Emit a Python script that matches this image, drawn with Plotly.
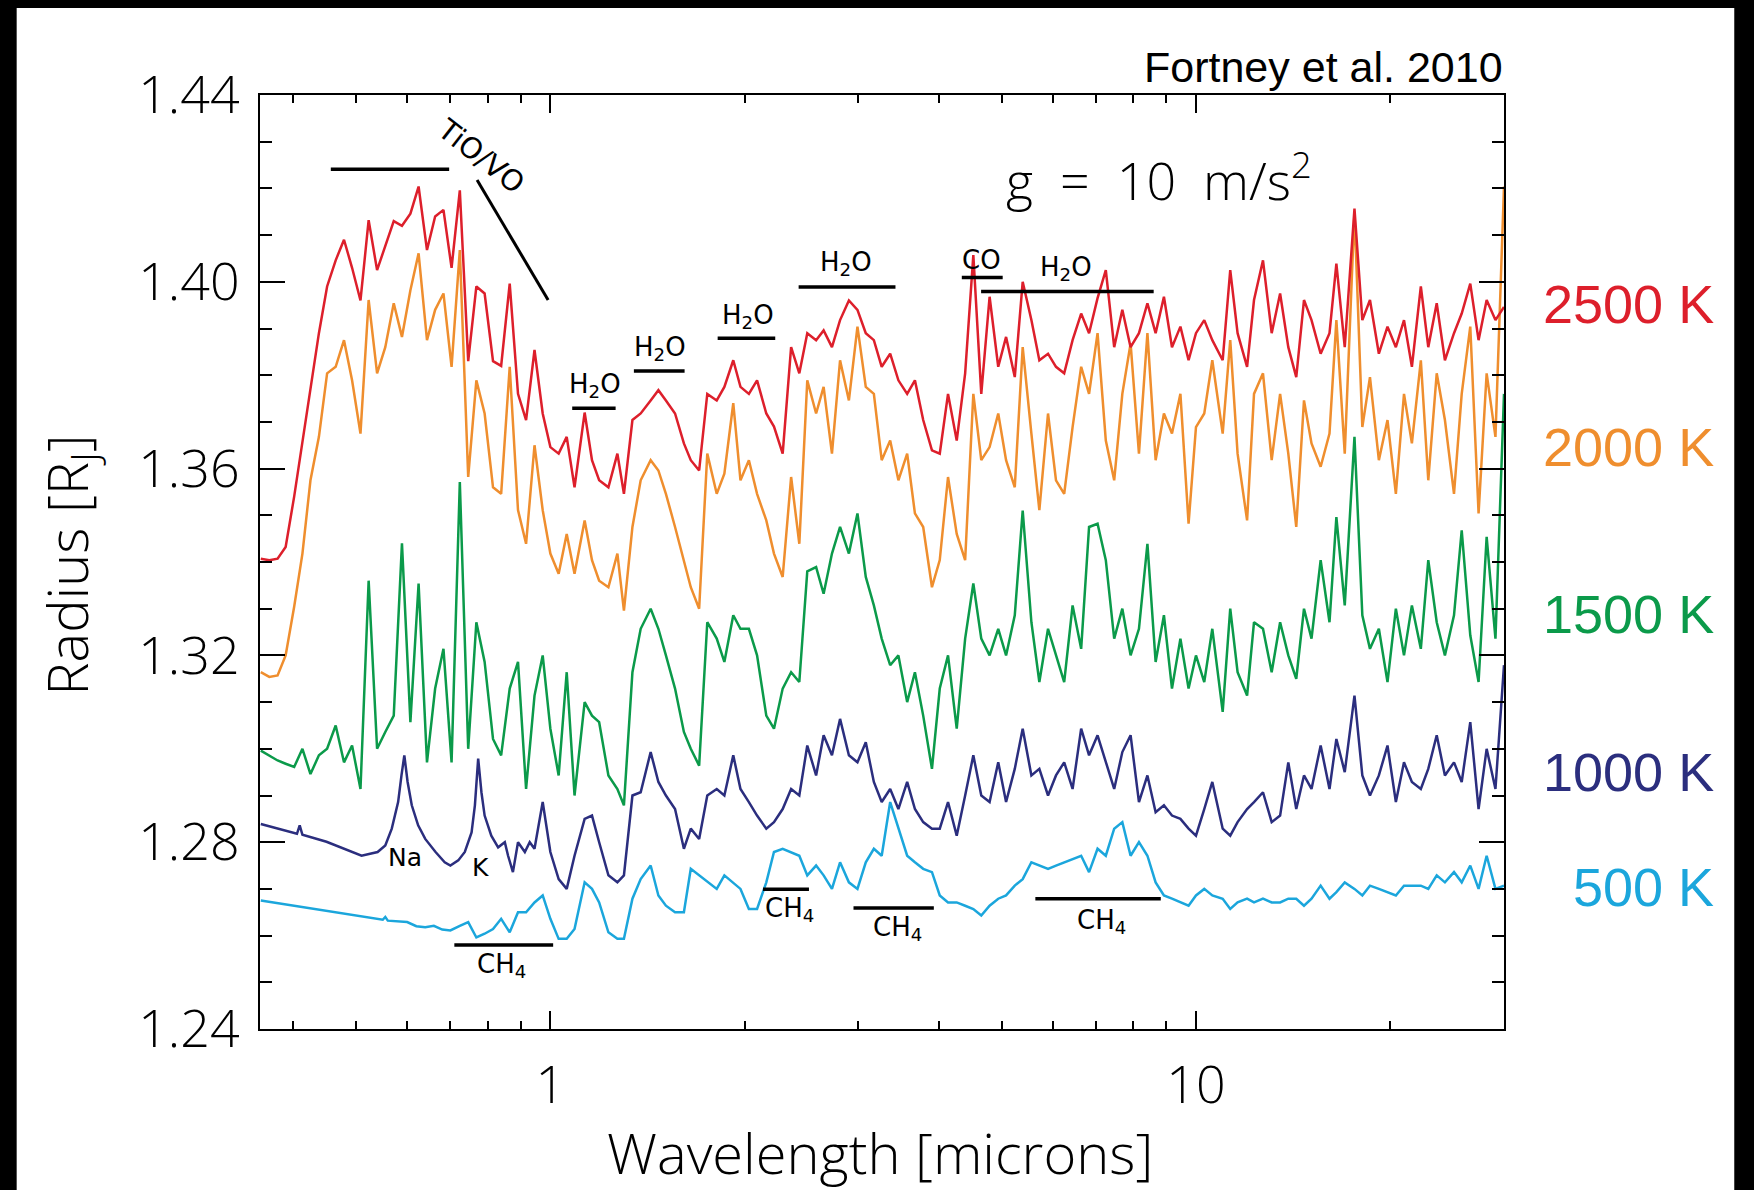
"""Transmission radius spectra of hot giant planets (after Fortney et al. 2010)."""
import numpy as np
import plotly.graph_objects as go

# ─────────────────────────────────────────────
# Data — values
# ─────────────────────────────────────────────
# shared wavelength grid (microns)
WAVELENGTH = [
    0.356, 0.367, 0.378, 0.389, 0.401, 0.413, 0.425, 0.438, 0.451, 0.465,
    0.479, 0.493, 0.508, 0.523, 0.539, 0.555, 0.572, 0.589, 0.607, 0.625,
    0.644, 0.663, 0.683, 0.703, 0.724, 0.746, 0.768, 0.791, 0.815, 0.839,
    0.865, 0.891, 0.917, 0.945, 0.973, 1.00, 1.03, 1.06, 1.09, 1.13,
    1.16, 1.19, 1.23, 1.27, 1.30, 1.34, 1.38, 1.43, 1.47, 1.51,
    1.56, 1.61, 1.65, 1.70, 1.75, 1.81, 1.86, 1.92, 1.97, 2.03,
    2.09, 2.16, 2.22, 2.29, 2.36, 2.43, 2.50, 2.58, 2.65, 2.73,
    2.81, 2.90, 2.99, 3.08, 3.17, 3.26, 3.36, 3.46, 3.57, 3.67,
    3.78, 3.90, 4.01, 4.13, 4.26, 4.39, 4.52, 4.65, 4.79, 4.94,
    5.08, 5.24, 5.39, 5.56, 5.72, 5.90, 6.07, 6.25, 6.44, 6.64,
    6.83, 7.04, 7.25, 7.47, 7.69, 7.92, 8.16, 8.41, 8.66, 8.92,
    9.18, 9.46, 9.74, 10.0, 10.3, 10.6, 11.0, 11.3, 11.6, 12.0,
    12.3, 12.7, 13.1, 13.5, 13.9, 14.3, 14.7, 15.1, 15.6, 16.1,
    16.5, 17.0, 17.6, 18.1, 18.6, 19.2, 19.8, 20.4, 21.0, 21.6,
    22.3, 22.9, 23.6, 24.3, 25.1, 25.8, 26.6, 27.4, 28.2, 29.1,
    30.0,
]

R_2500 = [
    1.3407, 1.3404, 1.3407, 1.3432, 1.3540, 1.3654, 1.3775, 1.3890, 1.3990, 1.4046,
    1.4090, 1.4030, 1.3960, 1.4132, 1.4025, 1.4075, 1.4130, 1.4120, 1.4146, 1.4204,
    1.4068, 1.4140, 1.4154, 1.4030, 1.4196, 1.3830, 1.3990, 1.3975, 1.3830, 1.3820,
    1.3996, 1.3760, 1.3704, 1.3854, 1.3718, 1.3646, 1.3632, 1.3668, 1.3560, 1.3720,
    1.3618, 1.3575, 1.3560, 1.3632, 1.3546, 1.3704, 1.3718, 1.3746, 1.3768, 1.3746,
    1.3718, 1.3654, 1.3618, 1.3596, 1.3760, 1.3746, 1.3775, 1.3832, 1.3775, 1.3760,
    1.3789, 1.3718, 1.3690, 1.3632, 1.3860, 1.3804, 1.3890, 1.3875, 1.3896, 1.3860,
    1.3918, 1.3960, 1.3940, 1.3890, 1.3875, 1.3818, 1.3846, 1.3789, 1.3760, 1.3789,
    1.3704, 1.3639, 1.3632, 1.3760, 1.3660, 1.3804, 1.4057, 1.3760, 1.3968, 1.3818,
    1.3882, 1.3796, 1.4000, 1.3918, 1.3832, 1.3846, 1.3818, 1.3804, 1.3875, 1.3932,
    1.3890, 1.3965, 1.4025, 1.3860, 1.3940, 1.3860, 1.3890, 1.3954, 1.3890, 1.3968,
    1.3860, 1.3904, 1.3832, 1.3890, 1.3918, 1.3875, 1.3832, 1.4025, 1.3890, 1.3818,
    1.3961, 1.4046, 1.3890, 1.3975, 1.3860, 1.3796, 1.3961, 1.3918, 1.3846, 1.3890,
    1.4039, 1.3860, 1.4157, 1.3918, 1.3961, 1.3846, 1.3904, 1.3860, 1.3918, 1.3818,
    1.3990, 1.3860, 1.3954, 1.3832, 1.3890, 1.3932, 1.3996, 1.3875, 1.3961, 1.3918,
    1.3946,
]

R_2000 = [
    1.3164, 1.3154, 1.3157, 1.3200, 1.3304, 1.3418, 1.3575, 1.3668, 1.3804, 1.3818,
    1.3875, 1.3789, 1.3675, 1.3961, 1.3804, 1.3860, 1.3954, 1.3882, 1.3982, 1.4061,
    1.3875, 1.3940, 1.3975, 1.3818, 1.4068, 1.3582, 1.3789, 1.3718, 1.3560, 1.3546,
    1.3818, 1.3511, 1.3439, 1.3650, 1.3511, 1.3418, 1.3375, 1.3460, 1.3375, 1.3489,
    1.3404, 1.3360, 1.3346, 1.3418, 1.3296, 1.3475, 1.3575, 1.3618, 1.3596, 1.3546,
    1.3475, 1.3400, 1.3346, 1.3300, 1.3632, 1.3546, 1.3589, 1.3740, 1.3575, 1.3618,
    1.3546, 1.3489, 1.3418, 1.3368, 1.3582, 1.3439, 1.3789, 1.3718, 1.3775, 1.3632,
    1.3832, 1.3746, 1.3904, 1.3775, 1.3760, 1.3618, 1.3660, 1.3575, 1.3632, 1.3504,
    1.3475, 1.3346, 1.3404, 1.3582, 1.3460, 1.3404, 1.3760, 1.3618, 1.3646, 1.3718,
    1.3618, 1.3560, 1.3860, 1.3675, 1.3511, 1.3718, 1.3575, 1.3546, 1.3689, 1.3818,
    1.3760, 1.3890, 1.3660, 1.3575, 1.3760, 1.3868, 1.3632, 1.3890, 1.3618, 1.3718,
    1.3675, 1.3760, 1.3482, 1.3689, 1.3718, 1.3832, 1.3675, 1.3875, 1.3632, 1.3489,
    1.3760, 1.3804, 1.3618, 1.3760, 1.3632, 1.3475, 1.3746, 1.3654, 1.3604, 1.3675,
    1.3918, 1.3632, 1.4150, 1.3689, 1.3796, 1.3618, 1.3704, 1.3546, 1.3760, 1.3654,
    1.3832, 1.3575, 1.3804, 1.3704, 1.3546, 1.3760, 1.3904, 1.3504, 1.3804, 1.3668,
    1.4204,
]

R_1500 = [
    1.2996, 1.2986, 1.2975, 1.2968, 1.2961, 1.3000, 1.2946, 1.2986, 1.3000, 1.3050,
    1.2971, 1.3007, 1.2914, 1.3360, 1.3000, 1.3036, 1.3071, 1.3440, 1.3057, 1.3354,
    1.2971, 1.3129, 1.3214, 1.2971, 1.3571, 1.3000, 1.3271, 1.3186, 1.3021, 1.2986,
    1.3129, 1.3186, 1.2914, 1.3114, 1.3200, 1.3043, 1.2943, 1.3164, 1.2900, 1.3100,
    1.3071, 1.3057, 1.2943, 1.2914, 1.2879, 1.3164, 1.3257, 1.3300, 1.3257, 1.3200,
    1.3129, 1.3036, 1.3000, 1.2964, 1.3271, 1.3236, 1.3186, 1.3286, 1.3257, 1.3257,
    1.3200, 1.3071, 1.3043, 1.3129, 1.3164, 1.3143, 1.3380, 1.3389, 1.3332, 1.3418,
    1.3475, 1.3418, 1.3504, 1.3368, 1.3307, 1.3236, 1.3179, 1.3200, 1.3100, 1.3164,
    1.3071, 1.2957, 1.3129, 1.3200, 1.3043, 1.3236, 1.3354, 1.3236, 1.3200, 1.3257,
    1.3200, 1.3286, 1.3510, 1.3271, 1.3143, 1.3257, 1.3200, 1.3143, 1.3307, 1.3214,
    1.3475, 1.3482, 1.3404, 1.3236, 1.3300, 1.3200, 1.3257, 1.3439, 1.3186, 1.3286,
    1.3129, 1.3236, 1.3129, 1.3200, 1.3143, 1.3257, 1.3079, 1.3300, 1.3164, 1.3114,
    1.3271, 1.3257, 1.3164, 1.3271, 1.3200, 1.3150, 1.3300, 1.3236, 1.3404, 1.3271,
    1.3496, 1.3307, 1.3668, 1.3286, 1.3214, 1.3257, 1.3143, 1.3300, 1.3200, 1.3307,
    1.3214, 1.3404, 1.3271, 1.3200, 1.3286, 1.3468, 1.3243, 1.3143, 1.3454, 1.3236,
    1.3760,
]

# 1000 K: resolved Na / K wings in the optical, then the shared grid from 0.945 um
WL_1000_OPT = [
    0.356, 0.380, 0.405, 0.409, 0.413, 0.450, 0.480, 0.510, 0.540, 0.555,
    0.568, 0.581, 0.588, 0.594, 0.601, 0.610, 0.624, 0.640, 0.664, 0.686,
    0.700, 0.720, 0.737, 0.755, 0.764, 0.773, 0.782, 0.791, 0.810, 0.830,
    0.850, 0.860, 0.875, 0.891, 0.913, 0.929,
]
R_1000_OPT = [
    1.2839, 1.2829, 1.2818, 1.2836, 1.2816, 1.2801, 1.2786, 1.2771, 1.2779, 1.2793,
    1.2829, 1.2886, 1.2943, 1.2986, 1.2929, 1.2879, 1.2836, 1.2807, 1.2779, 1.2757,
    1.2750, 1.2761, 1.2779, 1.2821, 1.2879, 1.2979, 1.2907, 1.2857, 1.2814, 1.2789,
    1.2800, 1.2771, 1.2736, 1.2800, 1.2779, 1.2800,
]
R_1000 = [
    1.2786, 1.2886, 1.2779, 1.2721, 1.2700, 1.2771, 1.2850,
    1.2857, 1.2800, 1.2729, 1.2714, 1.2729, 1.2900, 1.2907, 1.2993, 1.2929, 1.2900,
    1.2871, 1.2786, 1.2829, 1.2807, 1.2900, 1.2914, 1.2900, 1.2986, 1.2914, 1.2886,
    1.2857, 1.2829, 1.2843, 1.2871, 1.2914, 1.2900, 1.3007, 1.2943, 1.3029, 1.2986,
    1.3064, 1.2986, 1.2971, 1.3014, 1.2929, 1.2886, 1.2914, 1.2871, 1.2929, 1.2871,
    1.2843, 1.2829, 1.2829, 1.2886, 1.2814, 1.2900, 1.2986, 1.2900, 1.2886, 1.2971,
    1.2886, 1.2957, 1.3043, 1.2943, 1.2957, 1.2900, 1.2943, 1.2971, 1.2914, 1.3043,
    1.2986, 1.3029, 1.2970, 1.2914, 1.2993, 1.3029, 1.2886, 1.2943, 1.2864, 1.2879,
    1.2857, 1.2850, 1.2829, 1.2814, 1.2871, 1.2929, 1.2829, 1.2814, 1.2843, 1.2871,
    1.2886, 1.2907, 1.2843, 1.2857, 1.2971, 1.2871, 1.2943, 1.2914, 1.3007, 1.2914,
    1.3021, 1.2950, 1.3114, 1.2943, 1.2900, 1.2943, 1.3007, 1.2886, 1.2971, 1.2929,
    1.2914, 1.2957, 1.3029, 1.2943, 1.2971, 1.2929, 1.3057, 1.2871, 1.3000, 1.2914,
    1.3179,
]

# 500 K: smooth Rayleigh slope, then the shared grid from 0.724 um
WL_500_OPT = [0.356, 0.400, 0.450, 0.500, 0.550, 0.555, 0.560, 0.600, 0.620, 0.640,
              0.660, 0.680, 0.700]
R_500_OPT = [1.2675, 1.2664, 1.2653, 1.2643, 1.2634, 1.2640, 1.2632, 1.2629, 1.2620, 1.2618,
             1.2621, 1.2613, 1.2611]
R_500 = [
    1.2621, 1.2629, 1.2596, 1.2604, 1.2614, 1.2636,
    1.2607, 1.2650, 1.2650, 1.2671, 1.2686, 1.2636, 1.2593, 1.2593, 1.2614, 1.2714,
    1.2700, 1.2671, 1.2607, 1.2593, 1.2593, 1.2679, 1.2721, 1.2750, 1.2686, 1.2664,
    1.2650, 1.2650, 1.2743, 1.2729, 1.2714, 1.2700, 1.2729, 1.2714, 1.2700, 1.2657,
    1.2657, 1.2714, 1.2779, 1.2786, 1.2779, 1.2771, 1.2729, 1.2750, 1.2729, 1.2700,
    1.2757, 1.2714, 1.2700, 1.2757, 1.2786, 1.2771, 1.2886, 1.2829, 1.2771, 1.2757,
    1.2743, 1.2736, 1.2686, 1.2671, 1.2671, 1.2664, 1.2657, 1.2643, 1.2664, 1.2679,
    1.2686, 1.2707, 1.2721, 1.2757, 1.2750, 1.2743, 1.2750, 1.2757, 1.2764, 1.2771,
    1.2736, 1.2786, 1.2771, 1.2829, 1.2843, 1.2771, 1.2800, 1.2771, 1.2714, 1.2686,
    1.2679, 1.2671, 1.2664, 1.2686, 1.2700, 1.2686, 1.2679, 1.2657, 1.2671, 1.2679,
    1.2671, 1.2679, 1.2671, 1.2671, 1.2679, 1.2679, 1.2664, 1.2679, 1.2707, 1.2679,
    1.2693, 1.2714, 1.2700, 1.2686, 1.2707, 1.2700, 1.2693, 1.2686, 1.2707, 1.2707,
    1.2707, 1.2700, 1.2729, 1.2714, 1.2736, 1.2714, 1.2750, 1.2700, 1.2771, 1.2700,
    1.2707,
]

# molecular band markers: (label, x0, x1, bar radius, label x, label y)
BANDS = [
    ("H<sub>2</sub>O", 1.081, 1.262, 1.3729, 1.171, 1.3777),
    ("H<sub>2</sub>O", 1.347, 1.614, 1.3809, 1.476, 1.3857),
    ("H<sub>2</sub>O", 1.816, 2.230, 1.3879, 2.024, 1.3926),
    ("H<sub>2</sub>O", 2.424, 3.424, 1.3989, 2.873, 1.4039),
    ("CO", 4.338, 5.019, 1.4009, 4.647, 1.4046),
    ("H<sub>2</sub>O", 4.647, 8.600, 1.3979, 6.290, 1.4029),
    ("CH<sub>4</sub>", 0.710, 1.010, 1.2580, 0.840, 1.2537),
    ("CH<sub>4</sub>", 2.135, 2.515, 1.2699, 2.348, 1.2655),
    ("CH<sub>4</sub>", 2.948, 3.926, 1.2659, 3.453, 1.2616),
    ("CH<sub>4</sub>", 5.639, 8.820, 1.2679, 7.130, 1.2630),
]
TIO_BAR = ([0.457, 0.697], [1.4241, 1.4241])
TIO_SLANT = ([0.770, 0.992], [1.4218, 1.3961])

TEMPS = ["2500 K", "2000 K", "1500 K", "1000 K", "500 K"]
COLORS = {
    "2500 K": "#DD1F2B",
    "2000 K": "#EF8E2E",
    "1500 K": "#0B9A4A",
    "1000 K": "#2B2E7E",
    "500 K": "#1BA6DC",
}
LABEL_Y = {"2500 K": 0.776, "2000 K": 0.623, "1500 K": 0.444, "1000 K": 0.275, "500 K": 0.152}

X_RANGE = [0.355, 30.0]
Y_RANGE = [1.24, 1.44]
Y_MAJOR = [1.24, 1.28, 1.32, 1.36, 1.40, 1.44]
Y_MINOR = [1.25, 1.26, 1.27, 1.29, 1.30, 1.31, 1.33, 1.34, 1.35, 1.37, 1.38, 1.39, 1.41, 1.42, 1.43]
X_MAJOR = [1, 10]
X_MINOR = [0.4, 0.5, 0.6, 0.7, 0.8, 0.9, 2, 3, 4, 5, 6, 7, 8, 9, 20]

LIGHT = "Open Sans"
THIN = "DejaVu Sans"
SANS = "Liberation Sans, Arial, sans-serif"

# ─────────────────────────────────────────────
# Figure
# ─────────────────────────────────────────────
series = {
    "500 K": (WL_500_OPT + WAVELENGTH[24:], R_500_OPT + R_500),
    "1000 K": (WL_1000_OPT + WAVELENGTH[33:], R_1000_OPT + R_1000),
    "1500 K": (WAVELENGTH, R_1500),
    "2000 K": (WAVELENGTH, R_2000),
    "2500 K": (WAVELENGTH, R_2500),
}
for name, (wl, r) in series.items():
    assert len(wl) == len(r), name

fig = go.Figure()
for name, (wl, r) in series.items():
    fig.add_trace(go.Scatter(
        x=wl, y=r, mode="lines", name=name,
        line=dict(color=COLORS[name], width=2.5),
        hoverinfo="skip",
    ))

bar_style = dict(mode="lines", line=dict(color="black", width=3.5), hoverinfo="skip", showlegend=False)
for label, x0, x1, y, _, _ in BANDS:
    fig.add_trace(go.Scatter(x=[x0, x1], y=[y, y], **bar_style))
fig.add_trace(go.Scatter(x=TIO_BAR[0], y=TIO_BAR[1], **bar_style))
fig.add_trace(go.Scatter(x=TIO_SLANT[0], y=TIO_SLANT[1], **{**bar_style, "line": dict(color="black", width=3)}))

annotations = []
for label, _, _, _, lx, ly in BANDS:
    annotations.append(dict(
        x=np.log10(lx), y=ly, xref="x", yref="y", text=label, showarrow=False,
        xanchor="center", yanchor="middle",
        font=dict(family=THIN, size=26, color="black"),
    ))
annotations += [
    dict(x=np.log10(0.781), y=1.4270, xref="x", yref="y", text="TiO/VO", textangle=38,
         showarrow=False, xanchor="center", yanchor="middle",
         font=dict(family=THIN, size=29, color="black")),
    dict(x=np.log10(0.595), y=1.2768, xref="x", yref="y", text="Na", showarrow=False,
         xanchor="center", yanchor="middle", font=dict(family=THIN, size=25, color="black")),
    dict(x=np.log10(0.780), y=1.2746, xref="x", yref="y", text="K", showarrow=False,
         xanchor="center", yanchor="middle", font=dict(family=THIN, size=25, color="black")),
    dict(x=np.log10(8.77), y=1.4225, xref="x", yref="y",
         text="g\u00a0\u00a0=\u00a0\u00a010\u00a0\u00a0m/s<sup>2</sup>", showarrow=False,
         xanchor="center", yanchor="middle",
         font=dict(family=LIGHT, size=52, color="black", weight=300)),
    dict(x=1.0012, y=1.030, xref="paper", yref="paper", text="Fortney et al. 2010",
         xanchor="right", yanchor="middle", showarrow=False,
         font=dict(family=SANS, size=43, color="black")),
    dict(x=0.4984, y=-0.1317, xref="paper", yref="paper", text="Wavelength [microns]",
         xanchor="center", yanchor="middle", showarrow=False,
         font=dict(family=LIGHT, size=56, color="black", weight=300)),
    dict(x=-0.1530, y=0.4968, xref="paper", yref="paper", text="Radius [R<sub>J</sub>]",
         textangle=-90, xanchor="center", yanchor="middle", showarrow=False,
         font=dict(family=LIGHT, size=56, color="black", weight=300)),
]
for name in TEMPS:
    annotations.append(dict(
        x=1.1707, y=LABEL_Y[name], xref="paper", yref="paper", text=name,
        xanchor="right", yanchor="middle", showarrow=False,
        font=dict(family=SANS, size=54, color=COLORS[name]),
    ))

# black scan border around the original figure
shapes = [
    dict(type="rect", xref="paper", yref="paper", x0=-0.21, x1=-0.1956, y0=-0.175, y1=1.102,
         fillcolor="black", line_width=0),
    dict(type="rect", xref="paper", yref="paper", x0=-0.21, x1=1.201, y0=1.0931, y1=1.102,
         fillcolor="black", line_width=0),
    dict(type="rect", xref="paper", yref="paper", x0=1.1851, x1=1.201, y0=-0.175, y1=1.102,
         fillcolor="black", line_width=0),
]

tick_font = dict(family=LIGHT, size=52, color="black", weight=300)
fig.update_layout(
    width=1754, height=1190,
    margin=dict(l=260, r=250, t=95, b=161),
    paper_bgcolor="white", plot_bgcolor="white",
    showlegend=False,
    annotations=annotations,
    shapes=shapes,
    xaxis=dict(
        type="log", range=[np.log10(X_RANGE[0]), np.log10(X_RANGE[1])],
        tickmode="array", tickvals=X_MAJOR, ticktext=[str(v) for v in X_MAJOR],
        ticks="inside", ticklen=18, tickwidth=2, tickcolor="black",
        minor=dict(tickmode="array", tickvals=X_MINOR, ticks="inside", ticklen=8, tickwidth=2,
                   tickcolor="black", showgrid=False),
        showline=True, linecolor="black", linewidth=2, mirror="ticks",
        showgrid=False, zeroline=False, automargin=False,
        tickfont=tick_font, ticklabelstandoff=10,
    ),
    yaxis=dict(
        range=Y_RANGE,
        tickmode="array", tickvals=Y_MAJOR, ticktext=[f"{v:.2f}" for v in Y_MAJOR],
        ticks="inside", ticklen=25, tickwidth=2, tickcolor="black",
        minor=dict(tickmode="array", tickvals=Y_MINOR, ticks="inside", ticklen=12, tickwidth=2,
                   tickcolor="black", showgrid=False),
        showline=True, linecolor="black", linewidth=2, mirror="ticks",
        showgrid=False, zeroline=False, automargin=False,
        tickfont=tick_font, ticklabelstandoff=8,
    ),
)

# the page body margin would shift the figure by 8 px; drop it
fig.write_html("out.html", config={"displayModeBar": False},
               post_script="document.body.style.margin = '0';")
